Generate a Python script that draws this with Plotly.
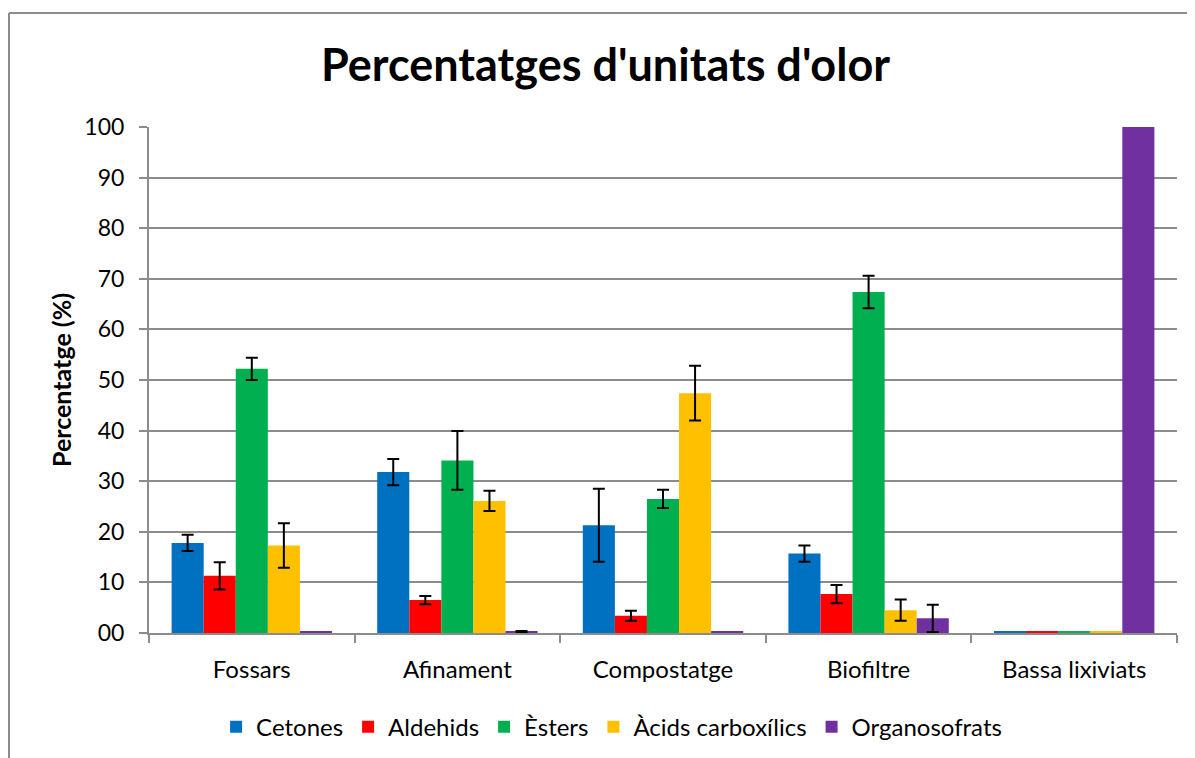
import plotly.graph_objects as go

categories = ["Fossars", "Afinament", "Compostatge", "Biofiltre", "Bassa lixiviats"]
series_names = ["Cetones", "Aldehids", "Èsters", "Àcids carboxílics", "Organosofrats"]
colors = ["#0070C0", "#FF0000", "#00B050", "#FFC000", "#7030A0"]

cetones = [17.8, 31.8, 21.3, 15.7, 0.3]
aldehids = [11.3, 6.5, 3.4, 7.7, 0.3]
esters = [52.2, 34.1, 26.5, 67.4, 0.3]
acids = [17.3, 26.1, 47.4, 4.5, 0.3]
organo = [0.3, 0.3, 0.3, 2.9, 100]

# None = no error bar drawn
cetones_err = [1.6, 2.6, 7.2, 1.6, None]
aldehids_err = [2.7, 0.8, 1.0, 1.8, None]
esters_err = [2.2, 5.8, 1.8, 3.2, None]
acids_err = [4.4, 2.0, 5.4, 2.1, None]
organo_err = [None, 0.1, None, 2.7, None]

y_ticks = [0, 10, 20, 30, 40, 50, 60, 70, 80, 90, 100]
y_ticktext = ["00", "10", "20", "30", "40", "50", "60", "70", "80", "90", "100"]

values = [cetones, aldehids, esters, acids, organo]
errors = [cetones_err, aldehids_err, esters_err, acids_err, organo_err]

FONT = "Lato"
GRID = "#8C8C8C"

fig = go.Figure()
for name, vals, errs, col in zip(series_names, values, errors, colors):
    # non-numeric entry -> plotly.js skips the error bar for that point
    err_arr = ["NaN" if e is None else e for e in errs]
    fig.add_trace(go.Bar(
        name=name, x=categories, y=vals,
        marker=dict(color=col, line=dict(width=0)),
        error_y=dict(type="data", array=err_arr, visible=True,
                     color="black", thickness=2, width=6),
    ))

# plot area: page x 149..1177, y 127..633 (page is offset 8px by body margin)
fig.update_layout(
    width=1195, height=758,
    barmode="group", bargap=0.22, bargroupgap=0,
    paper_bgcolor="white", plot_bgcolor="white",
    margin=dict(l=141, r=26, t=119, b=133),
    font=dict(family=FONT, color="black", size=24),
    title=dict(text="<b>Percentatges d'unitats d'olor</b>",
               font=dict(family=FONT, size=45, color="black"),
               x=0.5, xanchor="center", y=0.925, yanchor="middle"),
    xaxis=dict(
        type="category", showgrid=False, showline=True, linecolor=GRID, linewidth=2,
        ticks="outside", ticklen=8, tickcolor=GRID, tickwidth=2, tickson="boundaries",
        tickfont=dict(family=FONT, size=24, color="black"), ticklabelstandoff=14,
    ),
    yaxis=dict(
        range=[0, 100], tickvals=y_ticks, ticktext=y_ticktext,
        showgrid=True, gridcolor=GRID, gridwidth=2,
        showline=True, linecolor=GRID, linewidth=2,
        ticks="outside", ticklen=8, tickcolor=GRID, tickwidth=2,
        tickfont=dict(family=FONT, size=23, color="black"), ticklabelstandoff=10,
        title=dict(text="<b>Percentatge (%)</b>", font=dict(family=FONT, size=25, color="black"),
                   standoff=6),
        zeroline=False,
    ),
    legend=dict(orientation="h", x=0.45, xanchor="center", y=-0.186, yanchor="middle",
                font=dict(family=FONT, size=24, color="black"),
                itemwidth=30, traceorder="normal", bgcolor="rgba(0,0,0,0)"),
    showlegend=True,
)

# chart area border (left and top edges visible)
bx = (9 - 149) / 1028
by = (633 - 13) / 506
fig.add_shape(type="line", xref="paper", yref="paper",
              x0=bx, x1=bx, y0=by, y1=-0.3, line=dict(color=GRID, width=2))
fig.add_shape(type="line", xref="paper", yref="paper",
              x0=bx, x1=1.1, y0=by, y1=by, line=dict(color=GRID, width=2))

fig.write_html("out.html")
